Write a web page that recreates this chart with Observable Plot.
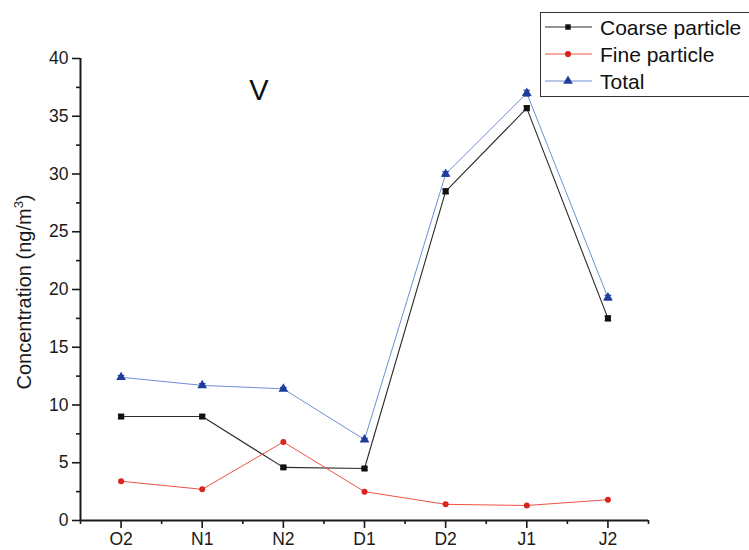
<!DOCTYPE html>
<html><head><meta charset="utf-8">
<script src="https://cdn.jsdelivr.net/npm/d3@7"></script>
<script src="https://cdn.jsdelivr.net/npm/@observablehq/plot@0.6"></script>
<style>
body{margin:0;background:#fff;font-family:"Liberation Sans",Arial,sans-serif;overflow:hidden}
#chart{position:relative;width:749px;height:550px}
</style>
</head><body><div id="chart"></div>
<script>
const categories = ["O2","N1","N2","D1","D2","J1","J2"];
const coarse = [9.0, 9.0, 4.6, 4.5, 28.5, 35.7, 17.5];
const fine = [3.4, 2.7, 6.8, 2.5, 1.4, 1.3, 1.8];
const total = [12.4, 11.7, 11.4, 7.0, 30.0, 37.0, 19.3];
const coarseErr = [0.15, 0.15, 0.12, 0.12, 0.2, 0.2, 0.2];
const totalErr = [0.15, 0.15, 0.12, 0.12, 0.2, 0.25, 0.2];
const yTicks = [0, 5, 10, 15, 20, 25, 30, 35, 40];
const yMinor = [2.5, 7.5, 12.5, 17.5, 22.5, 27.5, 32.5, 37.5];
const xMinor = [-0.5, 0.5, 1.5, 2.5, 3.5, 4.5, 5.5, 6.5];
const seriesNames = ["Coarse particle", "Fine particle", "Total"];
const seriesLine = ["#2a2a2a", "#ec5446", "#6f8fd8"];
const seriesDot = ["#111111", "#d8261f", "#1f3c9c"];
const seriesSymbol = ["square", "circle", "triangle"];
const panelLabel = "V";
const yLabel = "Concentration (ng/m";

const idx = categories.map((c, i) => i);
const rows = (vals, err) => idx.map(i => ({i, v: vals[i], e: err ? err[i] : 0}));
const cRows = rows(coarse, coarseErr), fRows = rows(fine), tRows = rows(total, totalErr);

function errMarks(data, color) {
  return [
    Plot.ruleX(data, {x: "i", y1: d => d.v - d.e, y2: d => d.v + d.e, stroke: color, strokeWidth: 1}),
    Plot.link(data, {x1: d => d.i - 0.04, x2: d => d.i + 0.04, y1: d => d.v + d.e, y2: d => d.v + d.e, stroke: color, strokeWidth: 1.2}),
    Plot.link(data, {x1: d => d.i - 0.04, x2: d => d.i + 0.04, y1: d => d.v - d.e, y2: d => d.v - d.e, stroke: color, strokeWidth: 1.2})
  ];
}

const plot = Plot.plot({
  width: 749, height: 550,
  marginLeft: 80, marginRight: 101, marginTop: 58, marginBottom: 30,
  style: {fontFamily: '"Liberation Sans", Arial, sans-serif', fontSize: "17px", color: "#1a1a1a", background: "transparent"},
  x: {type: "linear", domain: [-0.5, 6.5]},
  y: {domain: [0, 40]},
  marks: [
    Plot.axisY({ticks: yTicks, tickSize: 8, tickPadding: 4, label: null, strokeWidth: 1.6, fontSize: 17.5}),
    Plot.axisY({ticks: yMinor, tickSize: 4, text: null, label: null, strokeWidth: 1.6}),
    Plot.axisX({ticks: idx, tickFormat: i => categories[i], tickSize: 8, tickPadding: 4, label: null, strokeWidth: 1.6, fontSize: 17.5}),
    Plot.axisX({ticks: xMinor, tickSize: 4, text: null, label: null, strokeWidth: 1.6}),
    Plot.ruleX([-0.5], {y1: 0, y2: 40, stroke: "#1a1a1a", strokeWidth: 2}),
    Plot.ruleY([0], {x1: -0.5, x2: 6.5, stroke: "#1a1a1a", strokeWidth: 2}),
    Plot.line(tRows, {x: "i", y: "v", stroke: seriesLine[2], strokeWidth: 1}),
    Plot.line(cRows, {x: "i", y: "v", stroke: seriesLine[0], strokeWidth: 1.1}),
    Plot.line(fRows, {x: "i", y: "v", stroke: seriesLine[1], strokeWidth: 1}),
    ...errMarks(tRows, seriesDot[2]),
    ...errMarks(cRows, seriesDot[0]),
    Plot.dot(tRows, {x: "i", y: "v", symbol: seriesSymbol[2], r: 3.6, fill: seriesDot[2]}),
    Plot.dot(cRows, {x: "i", y: "v", symbol: seriesSymbol[0], r: 3.4, fill: seriesDot[0]}),
    Plot.dot(fRows, {x: "i", y: "v", symbol: seriesSymbol[1], r: 3, fill: seriesDot[1]}),
    Plot.text([panelLabel], {x: 1.7, y: 37.2, text: d => d, fontSize: 29, fill: "#111", textAnchor: "middle"})
  ]
});
document.getElementById("chart").appendChild(plot);

const svg = d3.select(plot);
// y-axis label with superscript
const lab = svg.append("text")
  .attr("transform", "translate(31,292) rotate(-90)")
  .attr("text-anchor", "middle")
  .attr("font-size", 20)
  .attr("fill", "#1a1a1a")
  .attr("font-family", '"Liberation Sans", Arial, sans-serif');
lab.append("tspan").text(yLabel);
lab.append("tspan").attr("dy", -8).attr("font-size", 13).text("3");
lab.append("tspan").attr("dy", 8).text(")");

// legend
const lg = svg.append("g").attr("font-family", '"Liberation Sans", Arial, sans-serif').attr("text-anchor", "start");
lg.append("rect").attr("x", 540.5).attr("y", 12.5).attr("width", 230).attr("height", 84)
  .attr("fill", "#fff").attr("stroke", "#333").attr("stroke-width", 1);
const legY = [27, 54, 81];
seriesNames.forEach((name, k) => {
  const y = legY[k];
  lg.append("line").attr("x1", 545).attr("x2", 592).attr("y1", y).attr("y2", y)
    .attr("stroke", seriesLine[k]).attr("stroke-width", 1);
  const t = seriesSymbol[k] === "square" ? d3.symbolSquare : seriesSymbol[k] === "circle" ? d3.symbolCircle : d3.symbolTriangle;
  lg.append("path").attr("d", d3.symbol().type(t).size(seriesSymbol[k] === "triangle" ? 40 : 30)())
    .attr("transform", `translate(568,${y})`).attr("fill", seriesDot[k]);
  lg.append("text").attr("x", 600).attr("y", y).attr("dy", "0.36em").attr("text-anchor", "start")
    .attr("font-size", 21).attr("fill", "#111").text(name);
});
</script>
</body></html>
